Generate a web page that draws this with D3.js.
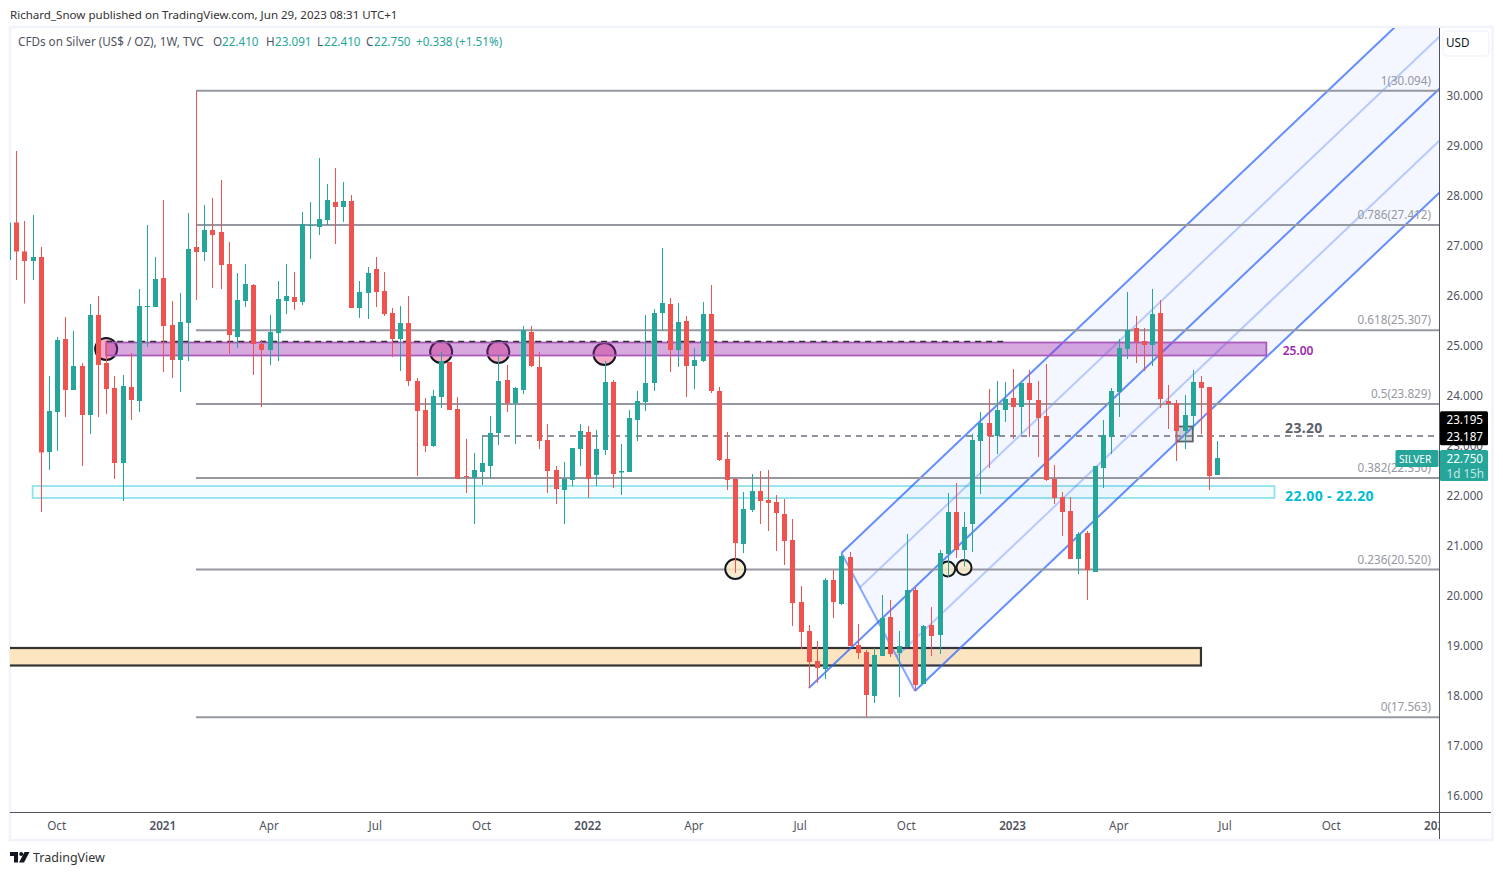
<!DOCTYPE html>
<html>
<head>
<meta charset="utf-8">
<script src="https://cdn.jsdelivr.net/npm/d3@7"></script>
<style>
html, body { margin: 0; padding: 0; background: #fff; }
svg { display: block; }
text { font-family: "Noto Sans", sans-serif; font-size: 11.7px; }
</style>
</head>
<body>
<svg id="chart" width="1503" height="875"></svg>
<script>
/* weekly candles, index 0 is the one cut off by the left edge */
var opens = [26.71,27.46,26.88,26.69,26.77,22.87,23.67,25.13,24.11,24.59,23.61,25.61,24.65,24.15,22.65,24.17,23.89,25.78,25.77,26.35,25.41,24.71,25.45,26.97,26.87,27.31,27.27,26.63,25.17,25.89,26.21,25.03,24.91,25.25,25.89,25.97,25.87,27.39,27.37,27.51,27.87,27.77,27.89,25.75,26.05,26.53,26.09,25.65,25.13,25.45,24.29,23.71,22.99,23.97,24.67,23.73,22.39,22.35,22.47,22.59,23.25,24.31,23.85,24.11,25.27,24.57,23.11,22.51,22.11,22.31,22.93,23.27,22.41,22.91,24.27,22.46,22.47,23.51,23.87,24.25,25.65,25.83,24.91,25.49,24.59,24.69,25.63,24.09,22.73,22.33,21.03,21.71,22.09,21.91,21.87,21.63,21.11,19.87,19.29,18.69,18.53,20.31,19.83,20.77,19.01,18.87,17.99,18.79,19.57,18.85,18.97,20.11,18.23,19.41,19.21,20.83,21.67,20.91,21.43,23.09,23.45,23.19,23.71,23.95,23.77,24.25,23.91,23.59,22.33,21.97,21.69,20.73,21.25,20.47,22.55,23.17,24.07,24.93,25.35,25.09,25.01,25.65,23.89,23.85,23.29,23.59,24.27,24.17,22.41];
var highs = [27.46,28.89,27.49,27.61,26.97,24.39,25.17,25.57,25.29,24.65,25.83,25.99,25.08,24.39,24.41,24.85,26.13,27.41,26.77,27.91,25.89,26.05,27.65,30.09,27.81,27.95,28.31,27.07,26.45,26.63,26.23,25.11,25.61,26.29,26.63,26.47,27.67,27.87,28.75,28.23,28.55,28.27,28.01,26.29,26.57,26.77,26.47,25.75,25.79,25.99,24.35,23.95,24.11,24.87,24.67,23.97,23.13,22.85,23.19,23.59,24.80,24.61,24.17,25.39,25.39,24.87,23.43,22.59,22.67,22.95,23.43,23.39,23.31,24.69,24.31,23.03,23.71,24.09,25.61,25.73,26.95,25.95,25.85,25.59,24.95,25.87,26.21,24.17,23.27,22.35,22.07,22.43,22.49,22.51,22.01,21.93,21.53,20.19,19.41,19.09,20.35,20.51,20.83,20.87,19.43,18.91,18.95,20.01,19.91,19.29,21.23,20.17,19.41,19.77,20.91,22.05,22.25,21.67,23.23,23.67,24.13,24.29,24.27,24.53,24.25,24.51,24.29,24.63,22.61,22.07,21.97,21.27,21.29,22.59,23.51,24.15,25.13,26.07,25.59,25.35,26.13,25.91,24.21,23.91,24.01,24.51,24.39,24.17,23.09];
var lows = [26.71,26.31,25.84,26.31,21.67,22.51,22.89,23.57,24.11,22.59,23.23,23.57,23.63,22.33,21.89,23.51,23.67,24.97,25.77,24.47,24.35,24.07,24.69,25.91,26.69,26.15,26.13,24.83,24.95,25.77,24.41,23.77,24.61,24.69,25.63,25.71,25.81,26.73,27.21,27.41,27.03,27.47,25.75,25.55,25.53,25.77,25.59,24.77,24.49,24.19,22.39,22.87,22.97,23.75,23.71,22.33,22.05,21.43,22.21,22.35,23.01,23.67,23.03,24.03,24.57,22.93,22.05,21.83,21.43,22.19,22.59,21.95,22.19,22.81,22.15,22.01,22.47,23.09,23.69,24.09,25.29,24.47,24.57,23.97,24.13,24.67,24.05,22.69,22.11,20.45,20.85,21.67,21.43,21.29,20.89,20.61,19.39,18.93,18.15,18.25,18.33,19.55,19.81,18.99,18.73,17.57,17.85,18.79,18.77,17.97,18.97,18.09,18.23,18.79,18.83,20.37,20.75,20.58,20.87,22.03,22.55,22.83,23.47,23.13,23.23,23.17,22.77,22.29,21.83,21.19,20.73,20.43,19.91,20.47,22.15,22.83,23.57,24.73,24.65,24.49,24.59,23.75,23.33,22.69,22.93,23.31,23.23,22.11,22.41];
var closes = [27.46,26.88,26.69,26.77,22.86,23.69,25.11,24.11,24.59,23.61,25.61,24.61,24.13,22.65,24.19,23.91,25.79,25.79,26.33,25.39,24.71,25.47,26.93,26.87,27.31,27.21,26.61,25.21,25.91,26.23,25.03,24.91,25.27,25.93,25.99,25.87,27.43,27.41,27.53,27.91,27.77,27.89,25.75,26.07,26.45,26.07,25.63,25.13,25.45,24.29,23.69,22.99,23.99,24.69,23.71,22.33,22.37,22.51,22.65,23.25,24.29,23.85,24.15,25.31,24.59,23.09,22.49,22.13,22.33,22.95,23.29,22.33,22.93,24.27,22.43,22.49,23.55,23.89,24.25,25.65,25.85,24.91,25.47,24.59,24.71,25.63,24.09,22.71,22.31,21.05,21.73,22.09,21.89,21.85,21.65,21.09,19.85,19.27,18.67,18.55,20.31,19.87,20.79,18.99,18.85,18.01,18.81,19.55,18.83,18.99,20.11,18.21,19.39,19.19,20.85,21.67,20.91,21.37,23.11,23.45,23.19,23.71,23.93,23.77,24.25,23.91,23.55,22.31,21.95,21.67,20.73,21.23,20.51,22.59,23.21,24.09,24.95,25.31,25.07,25.01,25.63,23.93,23.83,23.29,23.61,24.27,24.15,22.39,22.75];

var timeTickWeeks = [6, 19, 32, 45, 58, 71, 84, 97, 110, 123, 136, 149, 162, 175];
var timeTickLabels = ["Oct", "2021", "Apr", "Jul", "Oct", "2022", "Apr", "Jul", "Oct", "2023", "Apr", "Jul", "Oct", "2024"];
var priceTicks = [16, 17, 18, 19, 20, 21, 22, 23, 24, 25, 26, 27, 28, 29, 30];

/* fibonacci retracement, starts at the candle with the 30.094 high */
var fibStartWeek = 23;
var fibRatios = ["0", "0.236", "0.382", "0.5", "0.618", "0.786", "1"];
var fibPrices = [17.563, 20.52, 22.35, 23.829, 25.307, 27.412, 30.094];

/* pitchfork pivots: [week, price] */
var forkHandle = [98, 18.15];
var forkUpper = [102, 20.85];
var forkLower = [111, 18.09];

var purpleZone = { weeks: [12, 154], prices: [25.06, 24.8] };
var cyanZone = { weeks: [3, 155], prices: [22.19, 21.95] };
var orangeZone = { weeks: [-3, 146], prices: [18.95, 18.6] };
var greyBox = { weeks: [143, 145], prices: [23.38, 23.08] };

var pinkCircles = [[12, 24.93], [53, 24.87], [60, 24.87], [73, 24.83]];
var beigeCircles = [[89, 20.53, 10], [115, 20.53, 7.5], [117, 20.56, 7.5]];

var green = "#26a69a", red = "#ef5350", axisText = "#50535e", frameColor = "#f0f3fa";

var svg = d3.select("#chart");

var x = d3.scaleLinear().domain([0, 148]).range([8.13, 1217.3]);
var y = d3.scaleLinear().domain([16, 30]).range([795.5, 95.5]);

var left = 10, right = 1439.5, top_ = 28, bottom = 812.5;

svg.append("clipPath").attr("id", "plotClip").append("rect")
    .attr("x", left).attr("y", top_).attr("width", right - left).attr("height", bottom - top_);
svg.append("clipPath").attr("id", "timeClip").append("rect")
    .attr("x", left).attr("y", bottom).attr("width", right - left).attr("height", 28);

/* header */
svg.append("text").attr("x", 10).attr("y", 19).attr("fill", "#333").style("font-size", "11.55px").text("Richard_Snow published on TradingView.com, Jun 29, 2023 08:31 UTC+1");

/* frame */
svg.append("rect").attr("x", 10).attr("y", 27).attr("width", 1482.5).attr("height", 813)
    .attr("fill", "none").attr("stroke", frameColor).attr("stroke-width", 2.5);

var plot = svg.append("g").attr("clip-path", "url(#plotClip)");

function zone(z, fill, stroke, width) {
    plot.append("rect")
        .attr("x", x(z.weeks[0]))
        .attr("y", y(z.prices[0]))
        .attr("width", x(z.weeks[1]) - x(z.weeks[0]))
        .attr("height", y(z.prices[1]) - y(z.prices[0]))
        .attr("fill", fill).attr("stroke", stroke).attr("stroke-width", width);
}

/* circles sit under the zones */
plot.selectAll(".pink").data(pinkCircles).enter().append("circle")
    .attr("cx", function (d) { return x(d[0]); })
    .attr("cy", function (d) { return y(d[1]); })
    .attr("r", 11)
    .attr("fill", "#f8a8c5").attr("stroke", "#131722").attr("stroke-width", 2);

zone(orangeZone, "#fde5bf", "#333333", 2.2);
zone(cyanZone, "rgba(0,188,212,0.04)", "#8ee3ec", 1.8);

/* pitchfork */
var forkMid = [(forkUpper[0] + forkLower[0]) / 2, (forkUpper[1] + forkLower[1]) / 2];
var forkDir = [forkMid[0] - forkHandle[0], forkMid[1] - forkHandle[1]];
function along(p, k) { return [p[0] + forkDir[0] * k, p[1] + forkDir[1] * k]; }
function between(a, b) { return [(a[0] + b[0]) / 2, (a[1] + b[1]) / 2]; }
var forkLine = d3.line().x(function (d) { return x(d[0]); }).y(function (d) { return y(d[1]); });

plot.append("path")
    .attr("d", forkLine([forkUpper, along(forkUpper, 12), along(forkLower, 12), forkLower]) + "Z")
    .attr("fill", "#2962ff").attr("fill-opacity", 0.05);
[between(forkUpper, forkMid), between(forkMid, forkLower)].forEach(function (p) {
    plot.append("path").attr("d", forkLine([p, along(p, 12)]))
        .attr("fill", "none").attr("stroke", "#2962ff").attr("stroke-opacity", 0.3).attr("stroke-width", 2);
});
[[forkHandle, along(forkHandle, 12)], [forkUpper, along(forkUpper, 12)], [forkLower, along(forkLower, 12)]].forEach(function (seg) {
    plot.append("path").attr("d", forkLine(seg))
        .attr("fill", "none").attr("stroke", "#2962ff").attr("stroke-opacity", 0.72).attr("stroke-width", 2);
});
plot.append("path").attr("d", forkLine([forkUpper, forkLower]))
    .attr("fill", "none").attr("stroke", "#2962ff").attr("stroke-opacity", 0.55).attr("stroke-width", 2);

/* fibonacci lines and labels */
plot.selectAll(".fib").data(fibPrices).enter().append("line")
    .attr("x1", x(fibStartWeek)).attr("x2", right)
    .attr("y1", function (d) { return y(d); })
    .attr("y2", function (d) { return y(d); })
    .attr("stroke", "#9598a1").attr("stroke-width", 2);
plot.selectAll(".fibLabel").data(fibPrices).enter().append("text")
    .attr("x", 1431).attr("text-anchor", "end")
    .attr("y", function (d) { return y(d) - 6; })
    .attr("fill", "#9598a1")
    .text(function (d, i) { return fibRatios[i] + "(" + d3.format(".3f")(d) + ")"; });

zone(purpleZone, "rgba(156,39,176,0.4)", "#ab5abc", 1.8);

/* dashed levels */
plot.append("line").attr("x1", x(12)).attr("x2", x(122)).attr("y1", y(25.08)).attr("y2", y(25.08))
    .attr("stroke", "#333").attr("stroke-width", 1.3).attr("stroke-dasharray", "6 5");
plot.append("line").attr("x1", x(58)).attr("x2", right).attr("y1", y(23.19)).attr("y2", y(23.19))
    .attr("stroke", "#6a6d78").attr("stroke-width", 1.5).attr("stroke-dasharray", "6 5");

zone(greyBox, "rgba(120,123,134,0.3)", "#5d606b", 1.8);

plot.selectAll(".beige").data(beigeCircles).enter().append("circle")
    .attr("cx", function (d) { return x(d[0]); })
    .attr("cy", function (d) { return y(d[1]); })
    .attr("r", function (d) { return d[2]; })
    .attr("fill", "#f7e7c6").attr("fill-opacity", 0.85).attr("stroke", "#131722").attr("stroke-width", 2);

/* zone captions */
plot.append("text").attr("x", x(156)).attr("y", y(24.9)).attr("dy", 4).attr("fill", "#9c27b0").attr("font-weight", 600).style("font-size", "12px").text("25.00");
plot.append("text").attr("x", x(156.3)).attr("y", y(23.2) - 3).attr("fill", "#5d606b").attr("font-weight", 700).style("font-size", "14px").style("letter-spacing", "0.3px").text("23.20");
plot.append("text").attr("x", x(156.3)).attr("y", y(21.9)).attr("fill", "#00bcd4").attr("font-weight", 700).style("font-size", "14px").style("letter-spacing", "0.4px").text("22.00 - 22.20");

/* candles */
var candles = plot.selectAll(".candle").data(opens).enter().append("g").attr("class", "candle");
function candleColor(d, i) { return closes[i] >= opens[i] ? green : red; }
candles.append("rect")
    .attr("x", function (d, i) { return Math.round(x(i)); })
    .attr("width", 1)
    .attr("y", function (d, i) { return y(highs[i]); })
    .attr("height", function (d, i) { return y(lows[i]) - y(highs[i]); })
    .attr("fill", candleColor);
candles.append("rect")
    .attr("x", function (d, i) { return Math.round(x(i)) - 2; })
    .attr("width", 5)
    .attr("y", function (d, i) { return y(Math.max(opens[i], closes[i])); })
    .attr("height", function (d, i) { return Math.max(1, Math.abs(y(opens[i]) - y(closes[i]))); })
    .attr("fill", candleColor);

/* axes */
var priceAxis = d3.axisRight(y).tickValues(priceTicks).tickSize(0).tickPadding(7).tickFormat(d3.format(".3f"));
var priceG = svg.append("g").attr("transform", "translate(" + right + ",0)").call(priceAxis);
priceG.select(".domain").remove();
priceG.selectAll("text").attr("fill", axisText).style("font-family", '"Noto Sans", sans-serif').style("font-size", "11.7px");

var timeAxis = d3.axisBottom(x).tickValues(timeTickWeeks).tickSize(0).tickPadding(9)
    .tickFormat(function (d, i) { return timeTickLabels[i]; });
var timeG = svg.append("g").attr("clip-path", "url(#timeClip)").append("g").attr("transform", "translate(-1," + bottom + ")").call(timeAxis);
timeG.select(".domain").remove();
timeG.selectAll("text")
    .attr("fill", axisText)
    .style("font-family", '"Noto Sans", sans-serif')
    .style("font-size", "11.7px")
    .style("font-weight", function (d, i) { return timeTickLabels[i].length === 4 ? 600 : 400; });

svg.append("line").attr("x1", right).attr("x2", right).attr("y1", top_).attr("y2", 839).attr("stroke", "#50535e").attr("stroke-width", 1);
svg.append("line").attr("x1", left).attr("x2", 1491).attr("y1", bottom).attr("y2", bottom).attr("stroke", "#50535e").attr("stroke-width", 1);

/* USD button */
svg.append("rect").attr("x", 1443).attr("y", 31).attr("width", 46).attr("height", 25).attr("rx", 4)
    .attr("fill", "#fff").attr("stroke", frameColor).attr("stroke-width", 1.5);
svg.append("text").attr("x", 1446).attr("y", 47).attr("fill", "#131722").text("USD");

/* price tags */
function tag(px, py, w, h, fill) {
    svg.append("rect").attr("x", px).attr("y", py).attr("width", w).attr("height", h).attr("rx", 1.5).attr("fill", fill);
}
function tagText(px, py, txt, op, size) {
    svg.append("text").attr("x", px).attr("y", py).attr("fill", "#fff").attr("fill-opacity", op).style("font-size", size || "11.7px").text(txt);
}
var lastClose = closes[closes.length - 1];
tag(right + 0.5, y(23.187) - 25, 48, 34, "#000");
tagText(right + 7, y(23.187) - 12, "23.195", 1);
tagText(right + 7, y(23.187) + 5, "23.187", 1);
tag(right + 0.5, y(lastClose) - 8, 48, 31, green);
tagText(right + 7, y(lastClose) + 5, d3.format(".3f")(lastClose), 1);
tagText(right + 7, y(lastClose) + 20, "1d 15h", 0.75);
tag(1395.5, y(lastClose) - 8, 43, 17, green);
tagText(1399, y(lastClose) + 4.5, "SILVER", 1, "10.2px");

/* legend */
var legend = svg.append("text").attr("y", 46).attr("fill", axisText);
legend.append("tspan").attr("x", 18).text("CFDs on Silver (US$ / OZ), 1W, TVC");
[["O", 213, "22.410", 222], ["H", 266, "23.091", 275], ["L", 317, "22.410", 324], ["C", 366, "22.750", 374]].forEach(function (p) {
    legend.append("tspan").attr("x", p[1]).text(p[0]);
    legend.append("tspan").attr("x", p[3]).attr("fill", green).text(p[2]);
});
legend.append("tspan").attr("x", 416).attr("fill", green).text("+0.338 (+1.51%)");

/* TradingView mark */
var logo = svg.append("g").attr("transform", "translate(10,852)").attr("fill", "#131722");
logo.append("path").attr("d", "M0 0H8V10.5H4V4H0Z");
logo.append("circle").attr("cx", 11.2).attr("cy", 2).attr("r", 2);
logo.append("path").attr("d", "M14.5 0H19.5L14 10.5H9Z");
svg.append("text").attr("x", 33).attr("y", 862).attr("fill", "#333").style("font-size", "12.5px").text("TradingView");
</script>
</body>
</html>
